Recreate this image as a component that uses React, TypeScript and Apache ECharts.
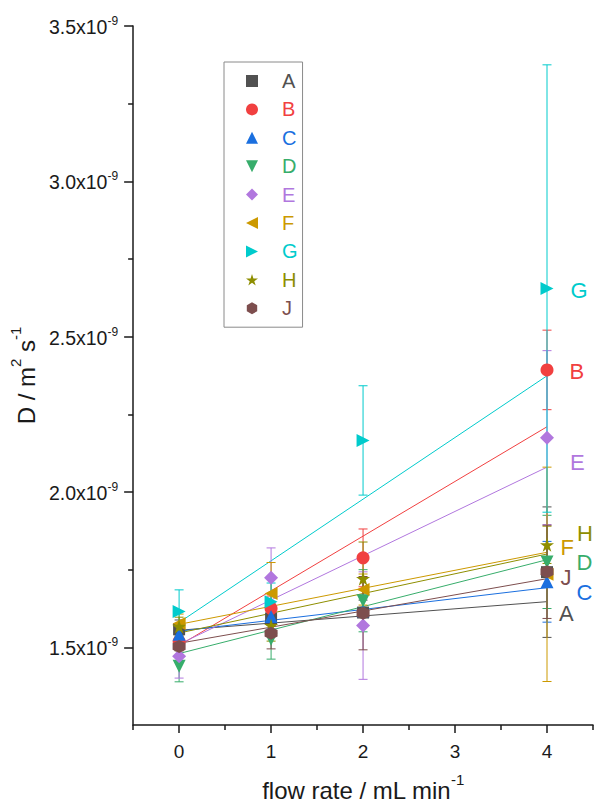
import React, { useEffect, useRef } from 'react';
import * as echarts from 'echarts';

// Flow rates (mL/min) at which D was measured
const flowRates = [0, 1, 2, 4];

// Sample names
const sampleNames = ['A', 'B', 'C', 'D', 'E', 'F', 'G', 'H', 'J'];

// Diffusion coefficients, in units of 1e-9 m^2/s, one list per sample
const dA = [1.558, 1.593, 1.612, 1.742];
const dB = [1.519, 1.625, 1.788, 2.393];
const dC = [1.542, 1.599, 1.618, 1.711];
const dD = [1.439, 1.526, 1.65, 1.775];
const dE = [1.471, 1.724, 1.57, 2.175];
const dF = [1.577, 1.673, 1.686, 1.735];
const dG = [1.615, 1.647, 2.166, 2.655];
const dH = [1.567, 1.57, 1.721, 1.83];
const dJ = [1.503, 1.545, 1.61, 1.743];

// Standard deviations (same units)
const errA = [0.03, 0.05, 0.04, 0.21];
const errB = [0.03, 0.04, 0.093, 0.128];
const errC = [0.02, 0.04, 0.05, 0.13];
const errD = [0.05, 0.064, 0.1, 0.15];
const errE = [0.07, 0.096, 0.173, 0.28];
const errF = [0.03, 0.1, 0.05, 0.345];
const errG = [0.07, 0.06, 0.176, 0.72];
const errH = [0.03, 0.05, 0.118, 0.06];
const errJ = [0.03, 0.05, 0.118, 0.15];

// Weighted linear fits: D = intercept + slope * flow rate
const fitIntercept = [1.555, 1.506, 1.552, 1.48, 1.51, 1.574, 1.58, 1.546, 1.513];
const fitSlope = [0.023, 0.176, 0.035, 0.0755, 0.1425, 0.058, 0.1985, 0.0636, 0.052];

// Axis ticks
const yMajorTicks = [1.5, 2.0, 2.5, 3.0, 3.5];
const yMinorTicks = [1.75, 2.25, 2.75, 3.25];
const xMajorTicks = [0, 1, 2, 3, 4];
const xMinorTicks = [-0.5, 0.5, 1.5, 2.5, 3.5, 4.5];

const values = [dA, dB, dC, dD, dE, dF, dG, dH, dJ];
const errors = [errA, errB, errC, errD, errE, errF, errG, errH, errJ];

// Styling
const FONT = '"Liberation Sans", Arial, Helvetica, sans-serif';
const INK = '#1a1a1a';
const colors = ['#515151', '#F14040', '#1A6FDF', '#37AD6B', '#B177DE', '#CC9900', '#00CBCC', '#8E8E00', '#7D4E4E'];
const STAR = 'path://M50,0 L61.2,34.6 L97.6,34.5 L68.1,55.9 L79.4,90.5 L50,69 L20.6,90.5 L31.9,55.9 L2.4,34.5 L38.8,34.6 Z';
const HEX = 'path://M50,0 L93.3,25 L93.3,75 L50,100 L6.7,75 L6.7,25 Z';
const symbols = [
  'rect',
  'circle',
  'triangle',
  'path://M0,0 L10,0 L5,10 Z',
  'diamond',
  'path://M0,5 L10,0 L10,10 Z',
  'path://M0,0 L10,5 L0,10 Z',
  STAR,
  HEX,
];
const symbolSizes = [12, 13, 13, 13, 14, 13, 13, 14, 13];
// offsets of the end-of-line sample labels, relative to the last point
const endLabelOffsets: [number, number][] = [
  [1, 41], [11, 2], [18, 11], [18, 1], [11, 25], [2, -27], [12, 2], [18, -11], [2, 6],
];

export default function App() {
  const ref = useRef<HTMLDivElement>(null);

  useEffect(() => {
    if (!ref.current) return;
    const chart = echarts.init(ref.current, null, { renderer: 'svg' });

    const last = flowRates.length - 1;

    const fitSeries = sampleNames.map((name, i) => ({
      type: 'line',
      name: name + ' fit',
      xAxisIndex: 0,
      yAxisIndex: 0,
      data: [
        [flowRates[0], fitIntercept[i] + fitSlope[i] * flowRates[0]],
        [flowRates[last], fitIntercept[i] + fitSlope[i] * flowRates[last]],
      ],
      showSymbol: false,
      symbol: 'none',
      silent: true,
      lineStyle: { color: colors[i], width: 1 },
      emphasis: { disabled: true },
      z: 2,
    }));

    const errorSeries = sampleNames.map((name, i) => ({
      type: 'custom',
      name: name + ' error',
      xAxisIndex: 0,
      yAxisIndex: 0,
      silent: true,
      data: flowRates.map((x, k) => [x, values[i][k], errors[i][k]]),
      encode: { x: 0, y: 1 },
      renderItem: (params: any, api: any) => {
        const x = api.value(0);
        const y = api.value(1);
        const e = api.value(2);
        const top = api.coord([x, y + e]);
        const bot = api.coord([x, y - e]);
        const hw = 4.5;
        const style = { stroke: colors[i], lineWidth: 1, fill: 'none' };
        return {
          type: 'group',
          children: [
            { type: 'line', shape: { x1: top[0], y1: top[1], x2: bot[0], y2: bot[1] }, style },
            { type: 'line', shape: { x1: top[0] - hw, y1: top[1], x2: top[0] + hw, y2: top[1] }, style },
            { type: 'line', shape: { x1: bot[0] - hw, y1: bot[1], x2: bot[0] + hw, y2: bot[1] }, style },
          ],
        };
      },
      z: 3,
    }));

    const pointSeries = sampleNames.map((name, i) => ({
      type: 'scatter',
      name,
      xAxisIndex: 0,
      yAxisIndex: 0,
      symbol: symbols[i],
      symbolSize: symbolSizes[i],
      itemStyle: { color: colors[i], opacity: 1 },
      emphasis: { disabled: true },
      data: flowRates.map((x, k) => {
        if (k !== last) return [x, values[i][k]];
        return {
          value: [x, values[i][k]],
          label: {
            show: true,
            position: 'right',
            distance: 5,
            offset: endLabelOffsets[i],
            formatter: name,
            color: colors[i],
            fontSize: 22,
            fontFamily: FONT,
          },
        };
      }),
      z: 4,
    }));

    const yLabelRich = {
      m: { fontSize: 19.5, lineHeight: 22, verticalAlign: 'bottom', fontFamily: FONT, color: INK },
      e: { fontSize: 12, verticalAlign: 'top', fontFamily: FONT, color: INK },
    };
    const nameRich = {
      t: { fontSize: 24, lineHeight: 30, verticalAlign: 'bottom', fontFamily: FONT, color: INK },
      s: { fontSize: 15, verticalAlign: 'top', fontFamily: FONT, color: INK },
    };

    const option: any = {
      animation: false,
      backgroundColor: '#ffffff',
      textStyle: { fontFamily: FONT },
      grid: { left: 133, right: 1, top: 26, bottom: 77, containLabel: false },
      legend: {
        orient: 'vertical',
        left: 224,
        top: 62,
        padding: [9, 5, 9, 22],
        itemWidth: 12,
        itemHeight: 12,
        itemGap: 8.4,
        borderColor: '#8a8a8a',
        borderWidth: 1,
        selectedMode: false,
        data: sampleNames.map((n, i) => ({ name: n, textStyle: { color: colors[i] } })),
        textStyle: { fontSize: 20, lineHeight: 19, padding: [0, 0, 0, 19], fontFamily: FONT },
      },
      xAxis: [
        {
          type: 'value',
          min: -0.5,
          max: 4.5,
          position: 'bottom',
          name: '{t|flow rate / mL min}{s|-1}',
          nameLocation: 'middle',
          nameGap: 47,
          nameTextStyle: { rich: nameRich },
          axisLine: { show: true, onZero: false, lineStyle: { color: INK, width: 1.5 } },
          axisTick: { show: true, length: 8, customValues: xMajorTicks, lineStyle: { color: INK, width: 1.5 } },
          axisLabel: {
            show: true,
            customValues: xMajorTicks,
            margin: 17,
            fontSize: 19,
            color: INK,
            fontFamily: FONT,
            formatter: (v: number) => String(v),
          },
          splitLine: { show: false },
        },
        {
          type: 'value',
          min: -0.5,
          max: 4.5,
          position: 'bottom',
          axisLine: { show: false, onZero: false },
          axisTick: { show: true, length: 5, customValues: xMinorTicks, lineStyle: { color: INK, width: 1.5 } },
          axisLabel: { show: false },
          splitLine: { show: false },
        },
      ],
      yAxis: [
        {
          type: 'value',
          min: 1.25,
          max: 3.5,
          position: 'left',
          name: '{t|D / m}{s|2}{t| s}{s|-1}',
          nameLocation: 'middle',
          nameGap: 93,
          nameTextStyle: { rich: nameRich },
          axisLine: { show: true, onZero: false, lineStyle: { color: INK, width: 1.5 } },
          axisTick: { show: true, length: 9, customValues: yMajorTicks, lineStyle: { color: INK, width: 1.5 } },
          axisLabel: {
            show: true,
            customValues: yMajorTicks,
            margin: 15,
            formatter: (v: number) => `{m|${v.toFixed(1)}x10}{e|-9}`,
            rich: yLabelRich,
          },
          splitLine: { show: false },
        },
        {
          type: 'value',
          min: 1.25,
          max: 3.5,
          position: 'left',
          axisLine: { show: false, onZero: false },
          axisTick: { show: true, length: 5, customValues: yMinorTicks, lineStyle: { color: INK, width: 1.5 } },
          axisLabel: { show: false },
          splitLine: { show: false },
        },
      ],
      series: [...fitSeries, ...errorSeries, ...pointSeries],
    };

    chart.setOption(option);
    return () => chart.dispose();
  }, []);

  return (
    <div style={{ position: 'fixed', left: 0, top: 0, width: 594, height: 807, background: '#ffffff', overflow: 'hidden' }}>
      <div ref={ref} style={{ width: 594, height: 807 }} />
    </div>
  );
}
